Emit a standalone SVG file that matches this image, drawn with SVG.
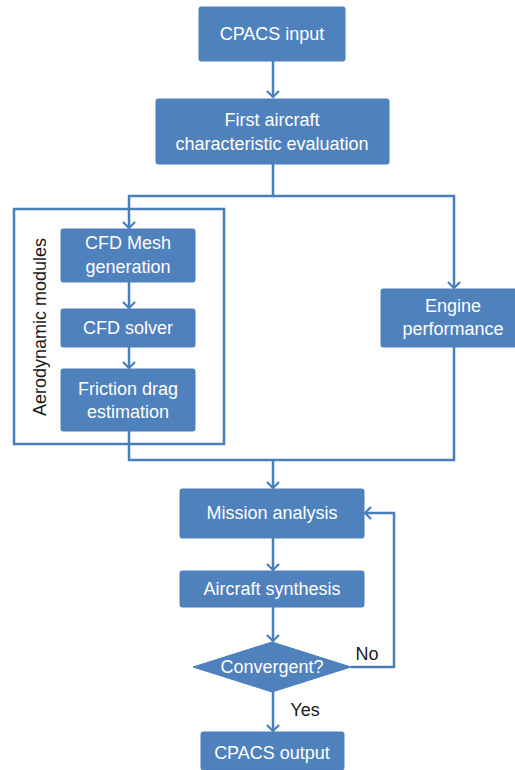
<svg xmlns="http://www.w3.org/2000/svg" width="515" height="770" viewBox="0 0 515 770">
<style>
.box{fill:#4f81bd;stroke:#4a7ebb;stroke-width:1}
.t{font-family:"Liberation Sans",Arial,sans-serif;font-size:18px;fill:#ffffff;text-anchor:middle}
.lbl{font-family:"Liberation Sans",Arial,sans-serif;font-size:18px;fill:#1a1a1a;text-anchor:middle}
.c{fill:none;stroke:#4a7ebb;stroke-width:2.5}
</style>
<defs>
<marker id="arr" markerWidth="14" markerHeight="14" refX="7" refY="7" orient="auto" markerUnits="userSpaceOnUse" viewBox="0 0 14 14">
<polyline points="1,1 7,7 1,13" fill="none" stroke="#4a7ebb" stroke-width="2.2"/>
</marker>
</defs>
<rect width="515" height="770" fill="#ffffff"/>
<g id="container">
<rect x="14" y="209" width="210" height="235" fill="none" stroke="#4a7ebb" stroke-width="2.5"/>
<text class="lbl" transform="translate(46,327) rotate(-90)">Aerodynamic modules</text>
</g>
<g id="connectors">
<line class="c" x1="273" y1="61" x2="273" y2="97" marker-end="url(#arr)"/>
<polyline class="c" points="273,164 273,196 129,196 129,228" marker-end="url(#arr)"/>
<polyline class="c" points="273,196 454,196 454,288" marker-end="url(#arr)"/>
<line class="c" x1="129" y1="282" x2="129" y2="308" marker-end="url(#arr)"/>
<line class="c" x1="129" y1="347" x2="129" y2="368" marker-end="url(#arr)"/>
<polyline class="c" points="129,431 129,460 454,460 454,347"/>
<line class="c" x1="273" y1="460" x2="273" y2="488" marker-end="url(#arr)"/>
<line class="c" x1="273" y1="538" x2="273" y2="570" marker-end="url(#arr)"/>
<line class="c" x1="273" y1="607" x2="273" y2="641" marker-end="url(#arr)"/>
<polyline class="c" points="351,667 394,667 394,513 365,513" marker-end="url(#arr)"/>
<line class="c" x1="273" y1="692" x2="273" y2="731" marker-end="url(#arr)"/>
<text class="lbl" x="367" y="660">No</text>
<text class="lbl" x="305" y="716">Yes</text>
</g>
<g id="cpacs-input">
<rect class="box" x="199" y="7" width="146" height="54" rx="2"/>
<text class="t" x="272" y="40">CPACS input</text>
</g>
<g id="first-aircraft">
<rect class="box" x="156" y="99" width="233" height="65" rx="2"/>
<text class="t" x="272" y="126">First aircraft</text>
<text class="t" x="272" y="150">characteristic evaluation</text>
</g>
<g id="cfd-mesh">
<rect class="box" x="61" y="229" width="134" height="53" rx="2"/>
<text class="t" x="128" y="249">CFD Mesh</text>
<text class="t" x="128" y="273">generation</text>
</g>
<g id="cfd-solver">
<rect class="box" x="61" y="309" width="134" height="38" rx="2"/>
<text class="t" x="128" y="334">CFD solver</text>
</g>
<g id="friction-drag">
<rect class="box" x="61" y="369" width="134" height="62" rx="2"/>
<text class="t" x="128" y="395">Friction drag</text>
<text class="t" x="128" y="418">estimation</text>
</g>
<g id="engine-performance">
<rect class="box" x="381" y="289" width="136" height="58" rx="2"/>
<text class="t" x="453" y="312">Engine</text>
<text class="t" x="453" y="335">performance</text>
</g>
<g id="mission-analysis">
<rect class="box" x="180" y="489" width="184" height="49" rx="2"/>
<text class="t" x="272" y="519">Mission analysis</text>
</g>
<g id="aircraft-synthesis">
<rect class="box" x="180" y="571" width="184" height="36" rx="2"/>
<text class="t" x="272" y="595">Aircraft synthesis</text>
</g>
<g id="convergent">
<polygon class="box" points="272,642 351,667 272,692 193,667"/>
<text class="t" x="272" y="673">Convergent?</text>
</g>
<g id="cpacs-output">
<rect class="box" x="201" y="732" width="143" height="38" rx="2"/>
<text class="t" x="272" y="759">CPACS output</text>
</g>
</svg>
